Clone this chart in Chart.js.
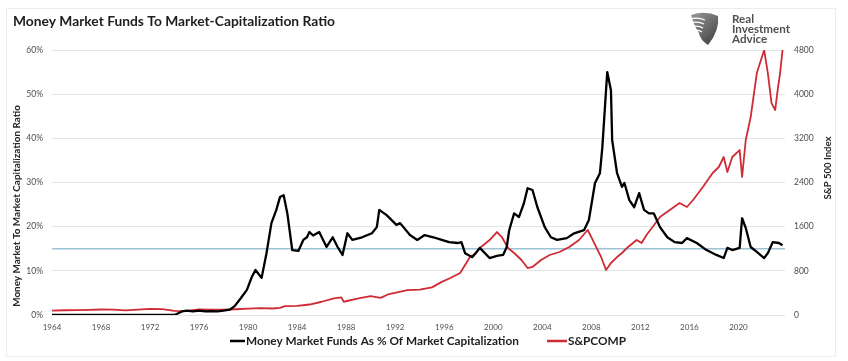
<!DOCTYPE html>
<html>
<head>
<meta charset="utf-8">
<script src="https://cdn.jsdelivr.net/npm/chart.js@4.4.0/dist/chart.umd.min.js"></script>
<style>
  html, body { margin: 0; padding: 0; background: #fff; }
  #wrap { width: 848px; height: 361px; }
</style>
</head>
<body>
<div id="wrap"><canvas id="mmfChart" width="848" height="361"></canvas></div>
<script>
// Money market funds as % of market cap
const mmfYears = [1964, 1966, 1968, 1970, 1972, 1974, 1974.6, 1975, 1975.5, 1976, 1976.5, 1977, 1977.5, 1978, 1978.5, 1978.9,
  1979.4, 1979.9, 1980.3, 1980.6, 1981.1, 1981.5, 1981.9, 1982.3, 1982.6, 1982.9, 1983.2, 1983.6, 1984.1, 1984.5, 1984.8,
  1985.0, 1985.3, 1985.8, 1986.4, 1986.9, 1987.3, 1987.7, 1988.1, 1988.5, 1989.3, 1990.1, 1990.5, 1990.7, 1991.3, 1992.1,
  1992.4, 1993.2, 1993.8, 1994.4, 1995.1, 1995.8, 1996.4, 1997.1, 1997.4, 1997.7, 1998.3, 1998.9, 1999.7, 2000.3, 2000.8,
  2001.1, 2001.3, 2001.7, 2002.1, 2002.5, 2002.8, 2003.2, 2003.6, 2004.2, 2004.7, 2005.2, 2006.0, 2006.6, 2007.4, 2007.8,
  2008.3, 2008.7, 2008.9, 2009.2, 2009.3, 2009.6, 2009.7, 2010.1, 2010.5, 2010.7, 2011.1, 2011.5, 2011.9, 2012.3, 2012.7,
  2013.1, 2013.6, 2014.2, 2014.8, 2015.4, 2015.8, 2016.6, 2017.4, 2018.2, 2018.8, 2019.1, 2019.5, 2020.1, 2020.3, 2020.6,
  2021.0, 2021.5, 2022.1, 2022.4, 2022.8, 2023.3, 2023.6];
const mmfPct = [0, 0, 0, 0, 0, 0, 0.8, 1.0, 0.8, 1.0, 0.8, 0.9, 0.8, 1.0, 1.2, 2.0,
  3.8, 5.7, 8.6, 10.2, 8.4, 14.0, 20.8, 23.8, 26.7, 27.1, 23.0, 14.7, 14.5, 17.0, 17.6,
  18.8, 18.0, 18.8, 15.4, 17.6, 15.4, 13.6, 18.5, 17.0, 17.6, 18.5, 19.9, 23.8, 22.6, 20.4,
  20.8, 18.1, 17.0, 18.1, 17.6, 17.0, 16.5, 16.3, 16.5, 14.0, 13.1, 15.2, 12.9, 13.4, 13.6,
  15.4, 19.2, 23.0, 22.2, 25.3, 28.7, 28.3, 24.4, 19.9, 17.6, 17.0, 17.4, 18.5, 19.2, 21.5,
  29.9, 32.1, 38.0, 50.9, 55.0, 50.9, 39.6, 32.1, 29.0, 29.9, 26.0, 24.4, 27.6, 23.8, 23.0,
  23.0, 19.9, 17.6, 16.5, 16.3, 17.4, 16.3, 14.7, 13.6, 12.9, 15.2, 14.7, 15.2, 21.9, 19.7,
  15.4, 14.3, 12.9, 14.0, 16.5, 16.3, 15.8];

// S&P 500 composite index
const spxYears = [1964, 1965, 1966, 1967, 1968, 1969, 1970, 1971, 1972, 1973, 1974, 1974.8, 1975.5, 1976, 1977, 1978,
  1979, 1980, 1981, 1982, 1982.6, 1983, 1984, 1985, 1986, 1987, 1987.6, 1987.8, 1989, 1990, 1990.8, 1991.5, 1993, 1994,
  1995, 1995.8, 1996.5, 1997.3, 1998.1, 1998.6, 1998.9, 1999.7, 2000.3, 2000.7, 2001.2, 2001.7, 2002.3, 2002.8, 2003.2,
  2003.9, 2004.6, 2005.4, 2006.2, 2007.0, 2007.7, 2008.0, 2008.4, 2008.8, 2009.2, 2009.6, 2010.1, 2010.5, 2010.9, 2011.7,
  2012.1, 2012.5, 2013.0, 2013.6, 2014.4, 2015.2, 2015.8, 2016.3, 2017.1, 2017.9, 2018.4, 2018.8, 2019.1, 2019.5, 2020.1,
  2020.3, 2020.6, 2021.0, 2021.5, 2022.1, 2022.4, 2022.7, 2023.0, 2023.2, 2023.4, 2023.6];
const spxIndex = [80, 86, 88, 92, 100, 96, 85, 98, 112, 105, 75, 70, 88, 100, 95, 96,
  104, 115, 125, 118, 130, 160, 165, 190, 240, 300, 320, 240, 300, 340, 310, 380, 450, 460,
  500, 600, 670, 760, 1050, 1120, 1213, 1358, 1503, 1412, 1213, 1123, 996, 851, 870,
  996, 1087, 1141, 1231, 1358, 1540, 1412, 1231, 1050, 815, 942, 1050, 1123, 1213, 1358,
  1304, 1449, 1594, 1775, 1902, 2028, 1956, 2083, 2318, 2572, 2681, 2862, 2590, 2862, 2988,
  2500, 3170, 3586, 4382, 4799, 4382, 3839, 3713, 4075, 4382, 4800];

// long-run average line
const avgLevel = 15;
const avgSpan = [1964, 2023.8];

// axis ticks
const xTickYears = [1964, 1968, 1972, 1976, 1980, 1984, 1988, 1992, 1996, 2000, 2004, 2008, 2012, 2016, 2020];
const pctTicks = [0, 10, 20, 30, 40, 50, 60];
const spxTicks = [0, 800, 1600, 2400, 3200, 4000, 4800];

const FONT = 'Lato, "Open Sans", sans-serif';

// helper: pick a font size so text spans a given width
function fitFont(ctx, text, weight, target) {
  ctx.font = weight + ' 20px ' + FONT;
  const w = ctx.measureText(text).width;
  return weight + ' ' + (20 * target / w).toFixed(2) + 'px ' + FONT;
}

const chromePlugin = {
  id: 'chrome',
  beforeDraw(chart) {
    const ctx = chart.ctx;
    ctx.save();
    ctx.fillStyle = '#ffffff';
    ctx.fillRect(0, 0, chart.width, chart.height);
    ctx.strokeStyle = '#ececec';
    ctx.lineWidth = 1;
    ctx.strokeRect(6.5, 8.5, 829, 348);
    ctx.restore();
  },
  afterDraw(chart) {
    const ctx = chart.ctx;
    ctx.save();

    // title
    const title = 'Money Market Funds To Market-Capitalization Ratio';
    ctx.font = fitFont(ctx, title, 'bold', 322);
    ctx.fillStyle = '#1e1e1e';
    ctx.textBaseline = 'middle';
    ctx.textAlign = 'left';
    ctx.fillText(title, 13, 22);

    // logo mark
    const g = ctx.createLinearGradient(690, 13, 718, 45);
    g.addColorStop(0, '#9a9a9a');
    g.addColorStop(1, '#3c3c3c');
    ctx.fillStyle = g;
    ctx.beginPath();
    ctx.moveTo(691, 15);
    ctx.quadraticCurveTo(705, 10, 718, 16);
    ctx.quadraticCurveTo(720, 30, 708, 45);
    ctx.quadraticCurveTo(700, 40, 699, 33);
    ctx.quadraticCurveTo(694, 26, 691, 15);
    ctx.closePath();
    ctx.fill();
    ctx.strokeStyle = '#ffffff';
    ctx.lineWidth = 1.2;
    [19, 23, 27, 31].forEach(function (yy, i) {
      ctx.beginPath();
      ctx.moveTo(690, yy);
      ctx.quadraticCurveTo(698, yy - 2, 705 - i, yy + 1);
      ctx.stroke();
    });

    // logo text
    ctx.fillStyle = '#505050';
    ctx.font = fitFont(ctx, 'Investment', 'bold', 58);
    ctx.fillText('Real', 732, 19);
    ctx.fillText('Investment', 732, 29);
    ctx.fillText('Advice', 732, 39);

    // axis titles (both read bottom-to-top)
    ctx.fillStyle = '#262626';
    const leftTitle = 'Money Market To Market Capitalization Ratio';
    ctx.font = fitFont(ctx, leftTitle, 'bold', 202);
    ctx.save();
    ctx.translate(17, 206);
    ctx.rotate(-Math.PI / 2);
    ctx.textAlign = 'center';
    ctx.fillText(leftTitle, 0, 0);
    ctx.restore();

    const rightTitle = 'S&P 500 Index';
    ctx.font = fitFont(ctx, rightTitle, 'bold', 63);
    ctx.save();
    ctx.translate(828, 168);
    ctx.rotate(-Math.PI / 2);
    ctx.textAlign = 'center';
    ctx.fillText(rightTitle, 0, 0);
    ctx.restore();

    // legend
    const items = chart.data.datasets.filter(function (d) { return d.label; });
    const legendPos = [{ lx: 230, len: 15, tx: 246, w: 273 }, { lx: 547, len: 20, tx: 568, w: 58 }];
    ctx.textAlign = 'left';
    items.forEach(function (d, i) {
      const p = legendPos[i];
      ctx.strokeStyle = d.borderColor;
      ctx.lineWidth = 2.5;
      ctx.beginPath();
      ctx.moveTo(p.lx, 341);
      ctx.lineTo(p.lx + p.len, 341);
      ctx.stroke();
      ctx.fillStyle = '#1e1e1e';
      ctx.font = fitFont(ctx, d.label, 'bold', p.w);
      ctx.fillText(d.label, p.tx, 341);
    });

    ctx.restore();
  }
};

const toPoints = function (xs, ys) { return xs.map(function (x, i) { return { x: x, y: ys[i] }; }); };

new Chart(document.getElementById('mmfChart').getContext('2d'), {
  type: 'line',
  data: {
    datasets: [
      {
        label: 'Money Market Funds As % Of Market Capitalization',
        data: toPoints(mmfYears, mmfPct),
        yAxisID: 'y',
        borderColor: '#000000',
        borderWidth: 2.3,
        pointRadius: 0,
        tension: 0,
        borderJoinStyle: 'round',
        order: 1
      },
      {
        label: 'S&PCOMP',
        data: toPoints(spxYears, spxIndex),
        yAxisID: 'y1',
        borderColor: '#d02a35',
        borderWidth: 1.8,
        pointRadius: 0,
        tension: 0,
        borderJoinStyle: 'round',
        order: 2
      },
      {
        label: '',
        data: toPoints(avgSpan, [avgLevel, avgLevel]),
        yAxisID: 'y',
        borderColor: '#9cc4d6',
        borderWidth: 1.6,
        pointRadius: 0,
        order: 3
      }
    ]
  },
  options: {
    responsive: false,
    animation: false,
    devicePixelRatio: 1,
    layout: { padding: { left: 0, right: 0, top: 50, bottom: 26 } },
    plugins: {
      legend: { display: false },
      tooltip: { enabled: false }
    },
    scales: {
      x: {
        type: 'linear',
        min: 1964,
        max: 2023.8,
        afterBuildTicks: function (scale) { scale.ticks = xTickYears.map(function (v) { return { value: v }; }); },
        afterFit: function (scale) { scale.height = 20; },
        grid: { display: false, drawTicks: false },
        border: { display: false },
        ticks: {
          autoSkip: false,
          maxRotation: 0,
          padding: 8,
          color: '#4d4d4d',
          font: { family: FONT, size: 8 },
          callback: function (v) { return String(v); }
        }
      },
      y: {
        position: 'left',
        min: 0,
        max: 60,
        afterBuildTicks: function (scale) { scale.ticks = pctTicks.map(function (v) { return { value: v }; }); },
        afterFit: function (scale) { scale.width = 52; },
        grid: { color: '#e4e4e4', drawTicks: false },
        border: { display: false },
        ticks: {
          padding: 9,
          color: '#4d4d4d',
          font: { family: FONT, size: 8.5 },
          callback: function (v) { return v + '%'; }
        }
      },
      y1: {
        position: 'right',
        min: 0,
        max: 4800,
        afterBuildTicks: function (scale) { scale.ticks = spxTicks.map(function (v) { return { value: v }; }); },
        afterFit: function (scale) { scale.width = 63; },
        grid: { display: false, drawTicks: false },
        border: { display: false },
        ticks: {
          padding: 9,
          color: '#4d4d4d',
          font: { family: FONT, size: 8.5 },
          callback: function (v) { return String(v); }
        }
      }
    }
  },
  plugins: [chromePlugin]
});
</script>
</body>
</html>
